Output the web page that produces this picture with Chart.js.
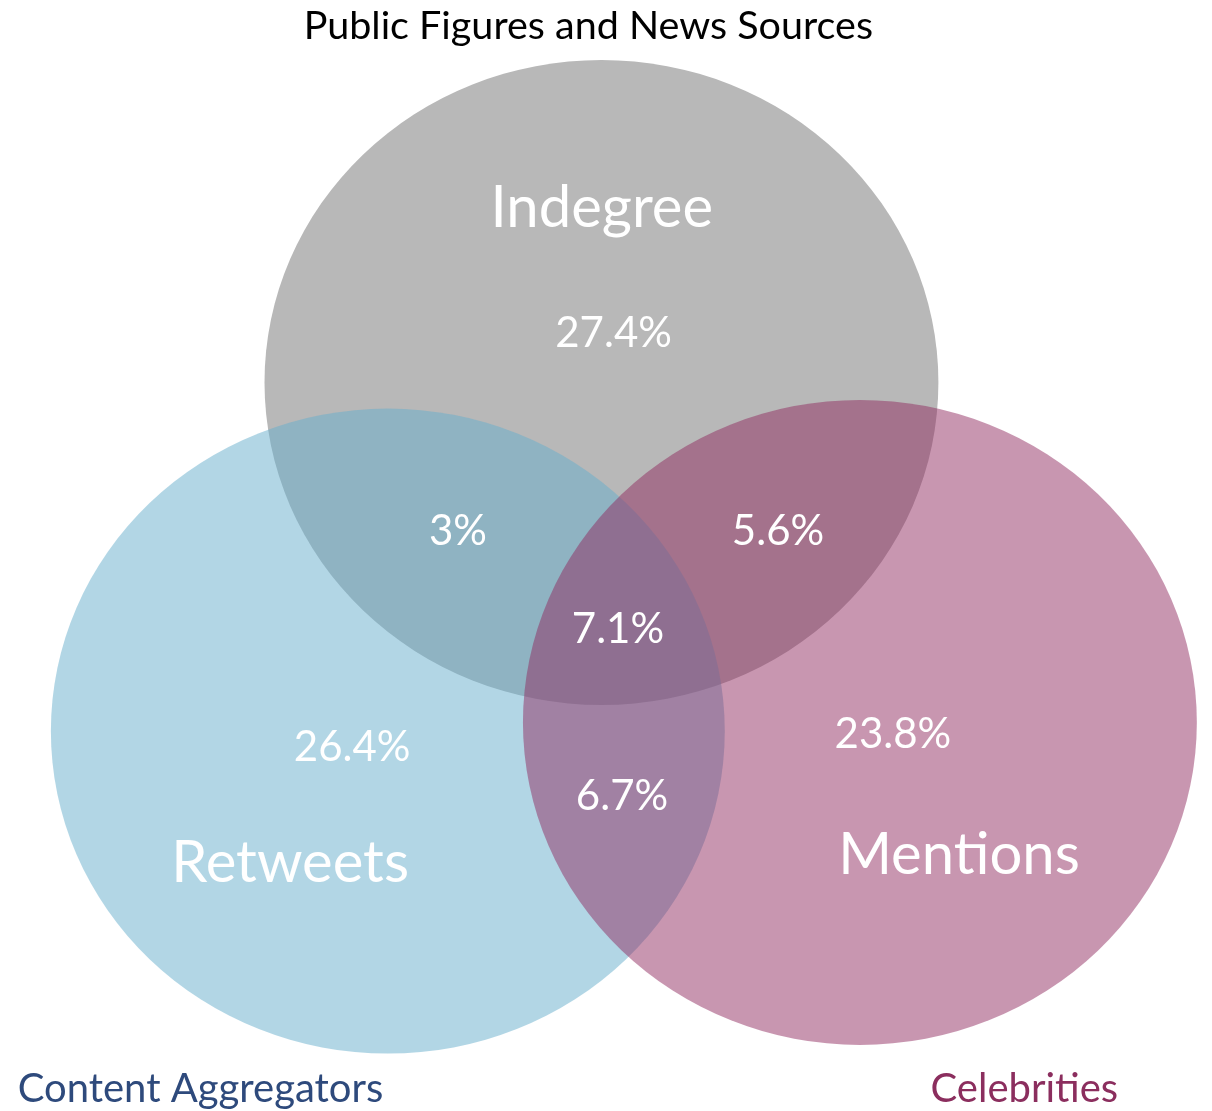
<!DOCTYPE html>
<html>
<head>
<meta charset="utf-8">
<script src="https://cdn.jsdelivr.net/npm/chart.js@4"></script>
<style>
  html, body { margin: 0; padding: 0; background: #ffffff; }
  #wrap { width: 1212px; height: 1111px; position: relative; }
</style>
</head>
<body>
<div id="wrap"><canvas id="venn"></canvas></div>
<script>
// Three sets, unit radius, centres in plot units
const setNames = ["Indegree", "Retweets", "Mentions"];
const setCenterX = [0, -0.634, 0.767];
const setCenterY = [0, -1.081, -1.054];
const setRadius = [1, 1, 1];
const setNameX = [0.001, -0.924, 1.061];
const setNameY = [0.482, -1.549, -1.524];

// Share of accounts in each region (percent)
const regionNames = ["Indegree only", "Indegree+Retweets", "Indegree+Mentions", "All three",
                     "Retweets only", "Retweets+Mentions", "Mentions only"];
const regionValues = [27.4, 3, 5.6, 7.1, 26.4, 6.7, 23.8];
const regionX = [0.036, -0.426, 0.524, 0.049, -0.740, 0.061, 0.865];
const regionY = [0.110, -0.504, -0.504, -0.808, -1.174, -1.326, -1.133];

// Captions
const chartTitle = "Public Figures and News Sources";
const titleX = -0.039, titleY = 1.065;
const cornerNames = ["Content Aggregators", "Celebrities"];
const cornerX = [-1.190, 1.255];
const cornerY = [-2.231, -2.231];

const setFill = ["rgb(184,184,184)", "rgba(104,175,204,0.51)", "rgba(143,41,94,0.49)"];
const cornerColor = ["#2e4a7c", "#8b2e5e"];
const FONT = "Lato, 'Open Sans', sans-serif";

const vennPlugin = {
    id: "venn",
    beforeDatasetsDraw(chart) {
        const ctx = chart.ctx;
        const xs = chart.scales.x, ys = chart.scales.y;
        ctx.save();
        setNames.forEach((name, i) => {
            const px = xs.getPixelForValue(setCenterX[i]);
            const py = ys.getPixelForValue(setCenterY[i]);
            const rx = Math.abs(xs.getPixelForValue(setCenterX[i] + setRadius[i]) - px);
            const ry = Math.abs(ys.getPixelForValue(setCenterY[i] + setRadius[i]) - py);
            ctx.beginPath();
            ctx.ellipse(px, py, rx, ry, 0, 0, Math.PI * 2);
            ctx.fillStyle = setFill[i];
            ctx.fill();
        });
        ctx.restore();
    },
    afterDatasetsDraw(chart) {
        const ctx = chart.ctx;
        const xs = chart.scales.x, ys = chart.scales.y;
        const text = (str, x, y, font, color) => {
            ctx.font = font;
            ctx.fillStyle = color;
            ctx.fillText(str, xs.getPixelForValue(x), ys.getPixelForValue(y));
        };
        ctx.save();
        ctx.textAlign = "center";
        ctx.textBaseline = "alphabetic";

        text(chartTitle, titleX, titleY, "39.5px " + FONT, "#000000");

        setNames.forEach((name, i) => {
            text(name, setNameX[i], setNameY[i], "58px " + FONT, "#ffffff");
        });

        regionValues.forEach((v, i) => {
            text(v + "%", regionX[i], regionY[i], "42px " + FONT, "#ffffff");
        });

        cornerNames.forEach((name, i) => {
            text(name, cornerX[i], cornerY[i], "40px " + FONT, cornerColor[i]);
        });
        ctx.restore();
    }
};

const ctx = document.getElementById("venn").getContext("2d");
new Chart(ctx, {
    type: "scatter",
    data: {
        datasets: [
            {
                label: "Sets",
                data: setNames.map((n, i) => ({ x: setCenterX[i], y: setCenterY[i] })),
                pointRadius: 0
            },
            {
                label: "Regions",
                data: regionValues.map((v, i) => ({ x: regionX[i], y: regionY[i] })),
                pointRadius: 0
            }
        ]
    },
    options: {
        responsive: true,
        maintainAspectRatio: false,
        animation: false,
        layout: { padding: 0 },
        scales: {
            x: { type: "linear", min: -1.785, max: 1.812, display: false },
            y: { type: "linear", min: -2.259, max: 1.186, display: false }
        },
        plugins: {
            legend: { display: false },
            tooltip: { enabled: false }
        }
    },
    plugins: [vennPlugin]
});
</script>
</body>
</html>
